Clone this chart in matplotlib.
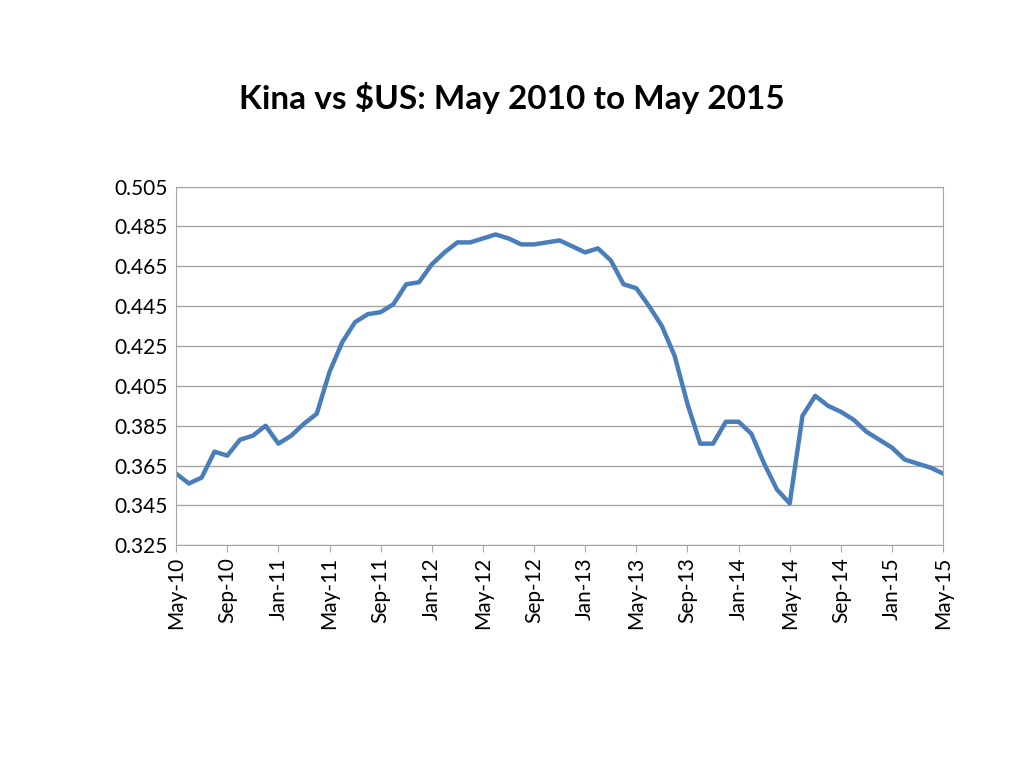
import matplotlib
matplotlib.use("Agg")
import matplotlib.pyplot as plt

values = [0.361,0.356,0.359,0.372,0.370,0.378,0.380,0.385,
          0.376,0.380,0.386,0.391,0.412,0.427,0.437,0.441,0.442,0.446,0.456,0.457,
          0.466,0.472,0.477,0.477,0.479,0.481,0.479,0.476,0.476,0.477,0.478,0.475,
          0.472,0.474,0.468,0.456,0.454,0.445,0.435,0.420,0.396,0.376,0.376,0.387,
          0.387,0.381,0.366,0.353,0.346,0.390,0.400,0.395,0.392,0.388,0.382,0.378,
          0.374,0.368,0.366,0.364,0.361]
tick_labels = ["May-10","Sep-10","Jan-11","May-11","Sep-11","Jan-12","May-12","Sep-12",
               "Jan-13","May-13","Sep-13","Jan-14","May-14","Sep-14","Jan-15","May-15"]
yticks = [0.325,0.345,0.365,0.385,0.405,0.425,0.445,0.465,0.485,0.505]

plt.rcParams['font.family'] = ['Lato', 'DejaVu Sans']
fig = plt.figure(figsize=(10.24,7.68), dpi=100)
ax = fig.add_axes([0.172,0.290,0.749,0.467])
ax.plot(range(len(values)), values, color='#4a7ebb', lw=3.2, solid_joinstyle='round')
ax.set_xlim(0, len(values)-1)
ax.set_ylim(0.325,0.505)
ax.set_yticks(yticks)
ax.set_yticklabels([f"{v:.3f}" for v in yticks], fontsize=15)
ax.set_xticks(range(0,len(values),4))
ax.set_xticklabels(tick_labels, rotation=90, fontsize=15)
ax.grid(axis='y', color='#a6a6a6', lw=1)
ax.set_axisbelow(True)
for s in ax.spines.values():
    s.set_color('#a6a6a6')
ax.tick_params(axis='y', length=0, pad=6)
ax.tick_params(axis='x', length=5, color='#a6a6a6')
fig.text(0.5, 0.873, "Kina vs $US: May 2010 to May 2015", ha='center', va='center',
         fontsize=24, fontweight='bold')
fig.savefig("out.png")
